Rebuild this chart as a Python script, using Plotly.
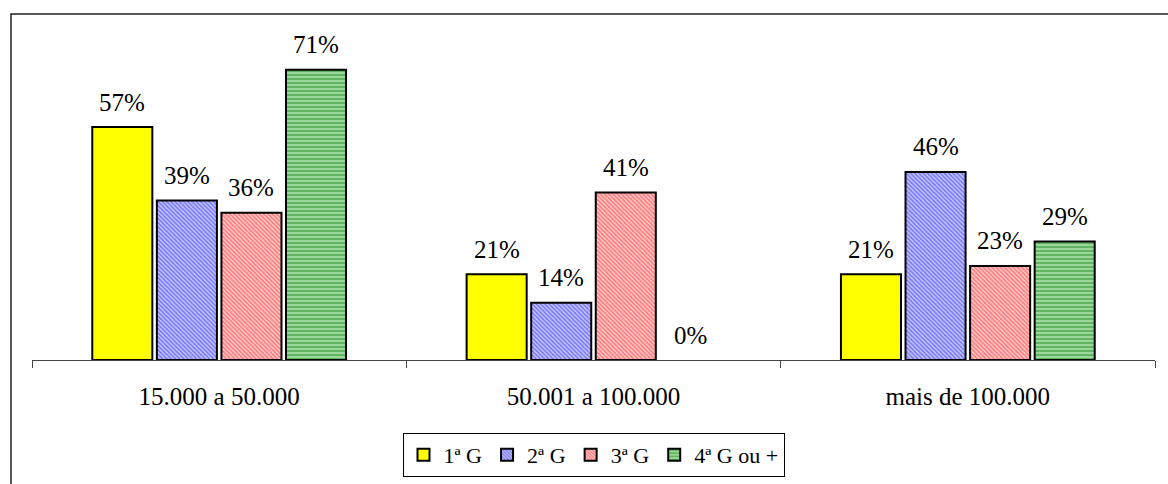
import plotly.graph_objects as go

categories = ["15.000 a 50.000", "50.001 a 100.000", "mais de 100.000"]
series_names = ["1ª G", "2ª G", "3ª G", "4ª G ou +"]
g1 = [0.57, 0.21, 0.21]
g2 = [0.39, 0.14, 0.46]
g3 = [0.36, 0.41, 0.23]
g4 = [0.71, 0.00, 0.29]
series_values = [g1, g2, g3, g4]

styles = [
    dict(color="#ffff00", pattern=None),
    dict(color="#c8c8ff", pattern=dict(shape="\\", fgcolor="#1f1ff8", bgcolor="#d4d4ff", size=3, solidity=0.6)),
    dict(color="#ffc8c8", pattern=dict(shape="\\", fgcolor="#ff2020", bgcolor="#ffd8d8", size=3, solidity=0.6)),
    dict(color="#99d699", pattern=dict(shape="-", fgcolor="#2a902a", bgcolor="#9ad89a", size=4, solidity=0.5)),
]

FONT = "Liberation Serif"
BARGAP = 0.31
GROUPGAP = 0.07

fig = go.Figure()
for name, vals, st in zip(series_names, series_values, styles):
    marker = dict(color=st["color"],
                  line=dict(color="black", width=[2 if v > 0 else 0 for v in vals]))
    if st["pattern"]:
        marker["pattern"] = st["pattern"]
    fig.add_trace(go.Bar(name=name, x=categories, y=vals, marker=marker))

# value labels, positioned at each bar's slot center
n = len(series_names)
slot = (1 - BARGAP) / n
annotations = []
for j, vals in enumerate(series_values):
    off = -(1 - BARGAP) / 2 + (j + 0.5) * slot
    for i, v in enumerate(vals):
        annotations.append(dict(
            x=i + off, y=v, xref="x", yref="y",
            text=f"{round(v*100)}%", showarrow=False,
            yanchor="middle", yshift=25,
            font=dict(family=FONT, size=25, color="black"),
        ))

fig.update_layout(
    width=1168, height=484,
    margin=dict(l=32, r=13, t=33, b=124),
    paper_bgcolor="white", plot_bgcolor="white",
    barmode="group", bargap=BARGAP, bargroupgap=GROUPGAP,
    font=dict(family=FONT, size=25, color="black"),
    showlegend=True,
    legend=dict(
        orientation="h", x=0.5, xanchor="center",
        yref="container", y=1 - 433 / 484, yanchor="top",
        bordercolor="black", borderwidth=1,
        font=dict(family=FONT, size=22, color="black"),
        itemwidth=30, tracegroupgap=0,
    ),
    annotations=annotations,
    shapes=[dict(type="rect", xref="paper", yref="paper",
                 x0=-0.0187, x1=1.3, y0=-0.8, y1=1.058,
                 line=dict(color="#222", width=1.5), layer="above")],
)
fig.update_xaxes(
    type="category", showline=True, linecolor="#444", linewidth=1,
    ticks="outside", tickson="boundaries", ticklen=7, tickcolor="#444",
    ticklabelstandoff=14,
    tickfont=dict(family=FONT, size=25, color="black"),
    showgrid=False, zeroline=False,
)
fig.update_yaxes(range=[0, 0.8], visible=False, showgrid=False, zeroline=False)

fig.write_html("out.html", config={"displayModeBar": False},
               post_script="document.body.style.margin='0px';document.body.style.overflow='hidden';")
